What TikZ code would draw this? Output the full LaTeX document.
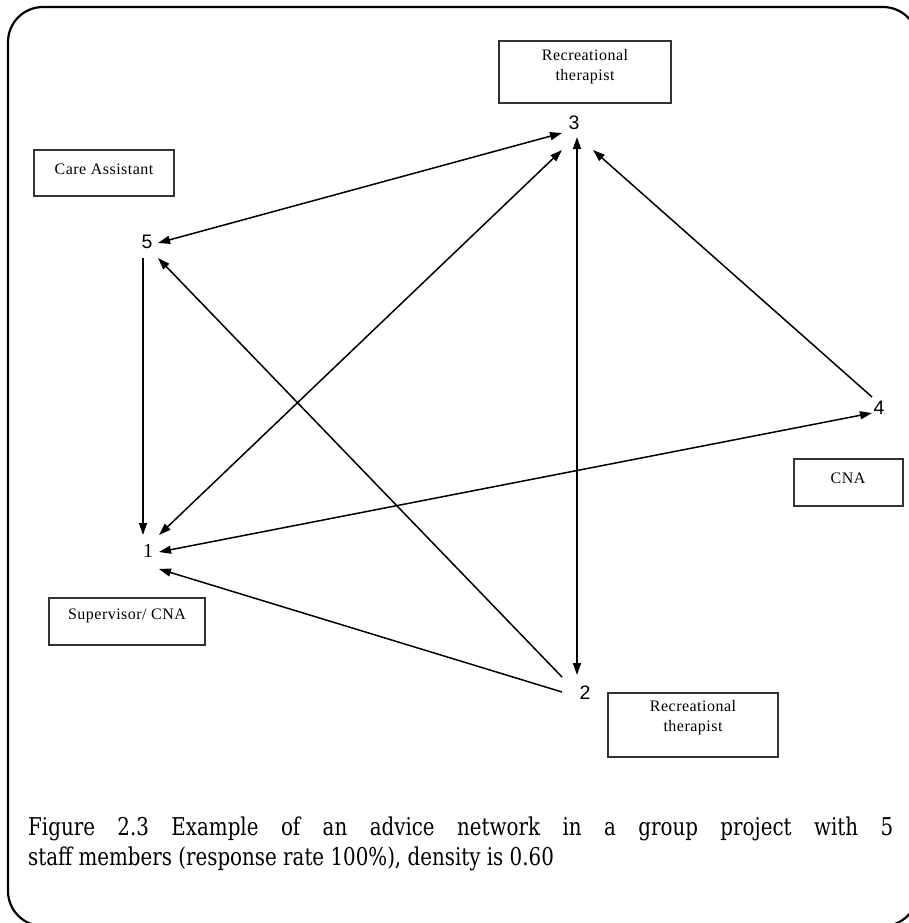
\documentclass[tikz,border=0pt]{standalone}
\usepackage{fontspec}
\setmainfont{Liberation Serif}
\newfontfamily\boxfont[LetterSpace=3]{Liberation Serif}
\newfontfamily\numfont{Liberation Sans}
\newfontfamily\numserif{Liberation Serif}
\newfontfamily\capfont[FakeStretch=0.81]{DejaVu Serif}
\usetikzlibrary{arrows.meta}

\begin{document}
\begin{tikzpicture}[x=1pt,y=-1pt,
  frame/.style={line width=2.2pt, rounded corners=35pt},
  rolebox/.style={draw=black!80, line width=1.2pt, inner sep=0},
  roletext/.style={font=\boxfont\fontsize{16}{20}\selectfont, align=center, inner sep=0},
  num/.style={font=\numfont\fontsize{19.5}{19.5}\selectfont, inner sep=0},
  tie/.style={line width=1.5pt, -{Triangle[length=12pt,width=8pt]}},
  mutual/.style={line width=1.5pt, {Triangle[length=12pt,width=8pt]}-{Triangle[length=12pt,width=8pt]}},
  captext/.style={font=\capfont\fontsize{24.5}{30}\selectfont, inner sep=0, anchor=base west}]

\useasboundingbox (0,0) rectangle (909,923);

% outer rounded frame, partly running off the page
\begin{scope}
  \clip (0,0) rectangle (909,923);
  \draw[frame] (8,7) rectangle (918,926);
\end{scope}

% role boxes
\node[rolebox, minimum width=172pt, minimum height=62pt] (box3) at (585,72) {};
\node[roletext] (lab3) at (585,67) {Recreational\\therapist};

\node[rolebox, minimum width=140pt, minimum height=46pt] (box5) at (104,173) {};
\node[roletext] (lab5) at (104,169) {Care Assistant};

\node[rolebox, minimum width=156pt, minimum height=47pt] (box1) at (127,621.5) {};
\node[roletext] (lab1) at (127,616) {Supervisor/ CNA};

\node[rolebox, minimum width=170pt, minimum height=64pt] (box2) at (693,725) {};
\node[roletext] (lab2) at (693,718) {Recreational\\therapist};

\node[rolebox, minimum width=109pt, minimum height=47pt] (box4) at (848.5,482.5) {};
\node[roletext] (lab4) at (848,478) {CNA};

% actors
\node[num] (n3) at (574,123) {3};
\node[num] (n5) at (147,242) {5};
\node[font=\numserif\fontsize{20}{20}\selectfont, inner sep=0] (n1) at (148,551) {1};
\node[num] (n2) at (585,693) {2};
\node[num] (n4) at (879,408) {4};

% connection points around each actor
\coordinate (n3a) at (562,133);
\coordinate (n3b) at (577,137);
\coordinate (n3c) at (562,150);
\coordinate (n3d) at (593,150);
\coordinate (n5a) at (158,243);
\coordinate (n5b) at (158,258);
\coordinate (n5c) at (143,258);
\coordinate (n1a) at (143,535);
\coordinate (n1b) at (159,535);
\coordinate (n1c) at (159,552);
\coordinate (n1d) at (159,569);
\coordinate (n2a) at (577,675);
\coordinate (n2b) at (562,677);
\coordinate (n2c) at (562,692);
\coordinate (n4a) at (872,397);
\coordinate (n4b) at (872,413);

% advice ties
\draw[mutual] (n5a) -- (n3a);
\draw[mutual] (n1b) -- (n3c);
\draw[mutual] (n3b) -- (n2a);
\draw[mutual] (n1c) -- (n4b);
\draw[tie] (n4a) -- (n3d);
\draw[tie] (n5c) -- (n1a);
\draw[tie] (n2b) -- (n5b);
\draw[tie] (n2c) -- (n1d);

% caption
\node[captext] (cap1) at (28,835) {\makebox[865pt][s]{Figure 2.3 Example of an advice network in a group project with 5}};
\node[captext] (cap2) at (28,865) {staff members (response rate 100\%), density is 0.60};

\end{tikzpicture}
\end{document}
